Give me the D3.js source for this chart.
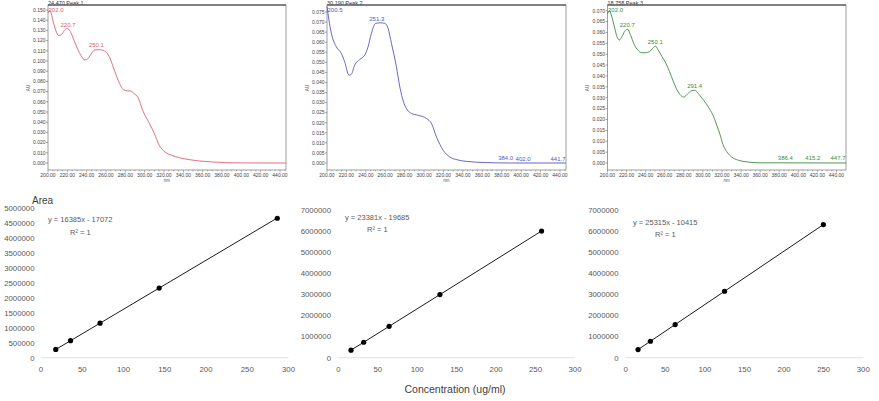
<!DOCTYPE html>
<html>
<head>
<meta charset="utf-8">
<script src="https://cdn.jsdelivr.net/npm/d3@7"></script>
<style>
  body { margin: 0; background: #fff; }
  svg { display: block; font-family: "Liberation Sans", Arial, sans-serif; }
</style>
</head>
<body>
<svg id="chart" width="879" height="401"></svg>
<script>
// === spectra (top row): wavelength (nm) and absorbance (AU)
var spec1Nm = [200, 202, 205, 208, 211, 214, 217, 220, 223, 227, 231, 235, 238, 241, 244, 247, 250, 254, 258, 261, 264, 269, 274, 278, 282, 286, 289, 293, 298, 305, 310, 315, 321, 328, 336, 346, 357, 370, 385, 400, 446];
var spec1Au = [0.147, 0.1495, 0.140, 0.130, 0.125, 0.126, 0.130, 0.132, 0.129, 0.120, 0.111, 0.104, 0.101, 0.102, 0.106, 0.110, 0.111, 0.111, 0.110, 0.108, 0.103, 0.090, 0.078, 0.072, 0.0707, 0.0705, 0.068, 0.0645, 0.0515, 0.0386, 0.0288, 0.0174, 0.0108, 0.0075, 0.0052, 0.0033, 0.002, 0.001, 0.0003, 0.0001, 0];

var spec2Nm = [200, 202, 204.5, 209.6, 214.8, 218.2, 222.7, 225.1, 228.5, 233.7, 238.9, 242.3, 245.7, 250.2, 255, 259.5, 262.9, 266.4, 271.5, 275, 280.1, 287, 293.9, 302.5, 307.6, 312.8, 319.7, 326.5, 334, 343.7, 364, 390, 446];
var spec2Au = [0.0778, 0.071, 0.0644, 0.0577, 0.0544, 0.0503, 0.0436, 0.0441, 0.0486, 0.0514, 0.0536, 0.0577, 0.0644, 0.0694, 0.0696, 0.0694, 0.0669, 0.0594, 0.0478, 0.0378, 0.0287, 0.0246, 0.0237, 0.0221, 0.0196, 0.0129, 0.0063, 0.003, 0.0016, 0.0008, 0.0002, 0, 0];

var spec3Nm = [200, 202, 204, 207, 210, 212.5, 215, 218, 221, 224, 228, 232, 236, 240, 244, 248, 250.5, 253, 257, 261, 265, 269, 273, 277, 280, 284, 288, 291.5, 295, 299, 303, 307, 311, 314, 318, 321, 325, 330, 337, 346, 360, 450];
var spec3Au = [0.0685, 0.070, 0.068, 0.063, 0.058, 0.0565, 0.058, 0.0605, 0.0615, 0.059, 0.0545, 0.0518, 0.0507, 0.0507, 0.0512, 0.053, 0.0537, 0.052, 0.049, 0.046, 0.042, 0.0375, 0.0335, 0.031, 0.0303, 0.0318, 0.0332, 0.0334, 0.032, 0.0298, 0.0275, 0.0248, 0.0215, 0.018, 0.013, 0.0085, 0.0052, 0.0028, 0.0013, 0.0005, 0.0001, 0];

// peak labels (nm) shown on each scan
var spec1Peaks = [202.0, 220.7, 250.1];
var spec2Peaks = [200.5, 251.3, 384.0, 402.0, 441.7];
var spec3Peaks = [202.0, 220.7, 250.1, 291.4, 386.4, 415.2, 447.7];

var specTitles = ["24.470 Peak 1", "30.190 Peak 2", "18.758 Peak 3"];
var spec1Ticks = d3.range(0, 0.1501, 0.01);
var spec2Ticks = d3.range(0, 0.0751, 0.005);
var spec3Ticks = d3.range(0, 0.0701, 0.005);
var nmTicks = d3.range(200, 441, 20);

// === calibration curves (bottom row)
var cal1Conc = [17.9, 35.8, 71.6, 143.2, 286.4];
var cal1Area = [276000, 569000, 1156000, 2330000, 4667000];
var cal2Conc = [16.1, 32.2, 64.4, 128.8, 257.6];
var cal2Area = [357000, 733000, 1486000, 2992000, 6003000];
var cal3Conc = [15.6, 31.2, 62.4, 124.8, 249.6];
var cal3Area = [385000, 780000, 1569000, 3149000, 6308000];

var calSlopes = [16385, 23381, 25315];
var calIntercepts = [-17072, -19685, -10415];
var calEquations = ["y = 16385x - 17072", "y = 23381x - 19685", "y = 25315x - 10415"];
var concTicks = [0, 50, 100, 150, 200, 250, 300];
var area1Ticks = d3.range(0, 5000001, 500000);
var area2Ticks = d3.range(0, 7000001, 1000000);

var svg = d3.select("#chart");

// === draw one UV scan
function drawSpectrum(opt) {
  var x = d3.scaleLinear().domain([200, 440]).range([opt.x200, opt.x440]);
  var y = d3.scaleLinear().domain([0, opt.top]).range([163, opt.yTop]);
  var g = svg.append("g");
  var left = opt.left, right = opt.right, y0 = 5, y1 = 170;

  // title above the frame
  g.append("text")
    .attr("x", left).attr("y", 4.5)
    .attr("font-size", 5.5).attr("fill", "#333")
    .text(opt.title);

  // frame
  g.append("rect")
    .attr("x", left).attr("y", y0)
    .attr("width", right - left).attr("height", y1 - y0)
    .attr("fill", "none").attr("stroke", "#888").attr("stroke-width", 0.8);
  g.append("line")
    .attr("x1", left).attr("x2", right).attr("y1", y0).attr("y2", y0)
    .attr("stroke", "#666").attr("stroke-width", 1.4);

  // y ticks
  g.selectAll(".yt").data(opt.yTicks).enter()
    .append("line")
    .attr("x1", left - 2).attr("x2", left)
    .attr("y1", function(d) { return y(d); })
    .attr("y2", function(d) { return y(d); })
    .attr("stroke", "#666").attr("stroke-width", 0.6);
  g.selectAll(".yl").data(opt.yTicks).enter()
    .append("text")
    .attr("x", left - 2.5)
    .attr("y", function(d) { return y(d) + 1.8; })
    .attr("text-anchor", "end")
    .attr("font-size", 5).attr("fill", "#444")
    .text(function(d) { return d.toFixed(3); });

  // x ticks, minor every 5 nm
  var minor = d3.range(200, opt.xMax, 5);
  g.selectAll(".xm").data(minor).enter()
    .append("line")
    .attr("x1", function(d) { return x(d); })
    .attr("x2", function(d) { return x(d); })
    .attr("y1", y1).attr("y2", function(d) { return d % 20 === 0 ? y1 + 2.5 : y1 + 1.3; })
    .attr("stroke", "#666").attr("stroke-width", 0.5);
  g.selectAll(".xl").data(nmTicks).enter()
    .append("text")
    .attr("x", function(d) { return x(d); })
    .attr("y", 177)
    .attr("text-anchor", "middle")
    .attr("font-size", 5).attr("fill", "#444")
    .text(function(d) { return d.toFixed(2); });

  // axis names
  g.append("text")
    .attr("x", (left + right) / 2 + 0).attr("y", 182)
    .attr("text-anchor", "middle")
    .attr("font-size", 4.5).attr("fill", "#555")
    .text("nm");
  g.append("text")
    .attr("transform", "translate(" + opt.auX + ",88) rotate(-90)")
    .attr("text-anchor", "middle")
    .attr("font-size", 4.5).attr("fill", "#555")
    .text("AU");

  // the scan itself
  var pts = opt.nm.map(function(d, i) { return [d, opt.au[i]]; });
  var line = d3.line()
    .x(function(d) { return x(d[0]); })
    .y(function(d) { return y(d[1]); })
    .curve(d3.curveMonotoneX);
  g.append("path")
    .datum(pts)
    .attr("d", line)
    .attr("fill", "none")
    .attr("stroke", opt.color)
    .attr("stroke-width", 0.9);

  // peak labels sit just above the curve, kept inside the frame
  var interp = d3.scaleLinear().domain(opt.nm).range(opt.au);
  g.selectAll(".pk").data(opt.peaks).enter()
    .append("text")
    .attr("x", function(d) {
      var cx = x(d);
      return Math.max(left + 8, Math.min(right - 8, cx));
    })
    .attr("y", function(d) { return Math.max(y0 + 7, y(interp(d)) - 2.5); })
    .attr("text-anchor", "middle")
    .attr("font-size", 6).attr("fill", opt.color)
    .text(function(d) { return d.toFixed(1); });
}

drawSpectrum({ title: specTitles[0], nm: spec1Nm, au: spec1Au, peaks: spec1Peaks,
  yTicks: spec1Ticks, top: 0.150, yTop: 10, left: 48, right: 286, x200: 48, x440: 280,
  xMax: 446, auX: 30, color: "#e0606e" });
drawSpectrum({ title: specTitles[1], nm: spec2Nm, au: spec2Au, peaks: spec2Peaks,
  yTicks: spec2Ticks, top: 0.075, yTop: 12, left: 327, right: 566, x200: 327, x440: 560,
  xMax: 446, auX: 309, color: "#5656c0" });
drawSpectrum({ title: specTitles[2], nm: spec3Nm, au: spec3Au, peaks: spec3Peaks,
  yTicks: spec3Ticks, top: 0.070, yTop: 10.7, left: 607.5, right: 846, x200: 607.5, x440: 836.5,
  xMax: 450, auX: 589, color: "#3e8a3e" });

// === draw one calibration plot
function drawCalibration(opt) {
  var x = d3.scaleLinear().domain([0, 300]).range([opt.x0, opt.x1]);
  var y = d3.scaleLinear().domain([0, opt.yMax]).range([357.7, opt.yTop]);
  var g = svg.append("g");

  g.append("line")
    .attr("x1", opt.x0).attr("x2", opt.x1)
    .attr("y1", y(0)).attr("y2", y(0))
    .attr("stroke", "#d9d9d9").attr("stroke-width", 0.8);

  g.selectAll(".yl").data(opt.yTicks).enter()
    .append("text")
    .attr("x", opt.labelX)
    .attr("y", function(d) { return y(d) + 2.8; })
    .attr("text-anchor", "end")
    .attr("font-size", 7.8).attr("fill", "#595959")
    .text(function(d) { return d; });

  g.selectAll(".xl").data(concTicks).enter()
    .append("text")
    .attr("x", function(d) { return x(d); })
    .attr("y", 372)
    .attr("text-anchor", "middle")
    .attr("font-size", 7.8).attr("fill", "#595959")
    .text(function(d) { return d; });

  // trendline over the data range
  var ends = d3.extent(opt.conc);
  g.append("line")
    .attr("x1", x(ends[0])).attr("x2", x(ends[1]))
    .attr("y1", y(opt.slope * ends[0] + opt.intercept))
    .attr("y2", y(opt.slope * ends[1] + opt.intercept))
    .attr("stroke", "#000").attr("stroke-width", 0.9);

  g.selectAll("circle").data(opt.conc).enter()
    .append("circle")
    .attr("cx", function(d) { return x(d); })
    .attr("cy", function(d, i) { return y(opt.area[i]); })
    .attr("r", 2.6)
    .attr("fill", "#000");

  g.append("text")
    .attr("x", opt.eqX).attr("y", opt.eqY)
    .attr("font-size", 7.5).attr("fill", "#595959")
    .text(opt.equation);
  g.append("text")
    .attr("x", opt.eqX + 22).attr("y", opt.eqY + 12.5)
    .attr("font-size", 7.5).attr("fill", "#595959")
    .text("R² = 1");
}

drawCalibration({ conc: cal1Conc, area: cal1Area, slope: calSlopes[0], intercept: calIntercepts[0],
  equation: calEquations[0], yTicks: area1Ticks, yMax: 5000000, yTop: 208.3,
  x0: 41, x1: 288.5, labelX: 34.5, eqX: 48, eqY: 222 });
drawCalibration({ conc: cal2Conc, area: cal2Area, slope: calSlopes[1], intercept: calIntercepts[1],
  equation: calEquations[1], yTicks: area2Ticks, yMax: 7000000, yTop: 210,
  x0: 338.3, x1: 575, labelX: 331, eqX: 345, eqY: 219.5 });
drawCalibration({ conc: cal3Conc, area: cal3Area, slope: calSlopes[2], intercept: calIntercepts[2],
  equation: calEquations[2], yTicks: area2Ticks, yMax: 7000000, yTop: 210,
  x0: 625.7, x1: 863.3, labelX: 618.5, eqX: 633, eqY: 224.5 });

// shared axis titles
svg.append("text")
  .attr("x", 32).attr("y", 204)
  .attr("font-size", 10).attr("fill", "#404040")
  .text("Area");
svg.append("text")
  .attr("x", 455).attr("y", 393)
  .attr("text-anchor", "middle")
  .attr("font-size", 10.5).attr("fill", "#404040")
  .text("Concentration (ug/ml)");
</script>
</body>
</html>
